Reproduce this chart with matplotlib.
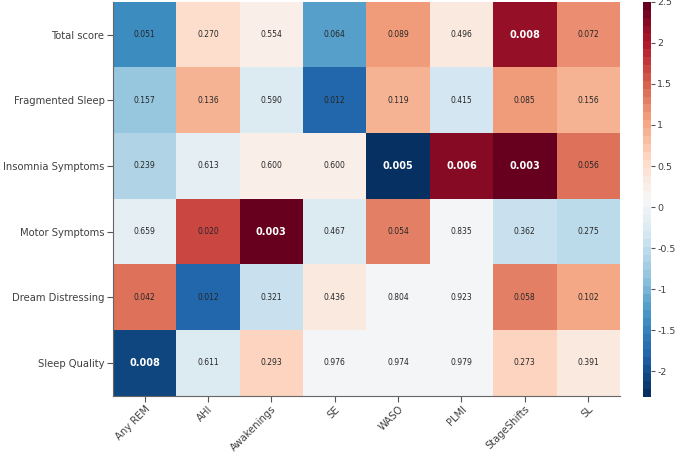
import numpy as np
import matplotlib
matplotlib.use('Agg')
import matplotlib.pyplot as plt

plt.rcParams['axes.unicode_minus'] = False

# row / column labels
rows = ['Total score', 'Fragmented Sleep', 'Insomnia Symptoms',
        'Motor Symptoms', 'Dream Distressing', 'Sleep Quality']
cols = ['Any REM', 'AHI', 'Awakenings', 'SE', 'WASO', 'PLMI', 'StageShifts', 'SL']

# effect values (colour)
total_score = [-1.39, 0.48, 0.24, -1.24, 1.06, 0.29, 2.12, 1.16]
fragmented = [-0.86, 0.96, -0.24, -1.82, 0.92, -0.33, 1.06, 0.87]
insomnia = [-0.62, -0.19, 0.20, 0.20, -2.31, 2.26, 2.50, 1.35]
motor = [-0.10, 1.73, 2.48, -0.28, 1.30, 0.05, -0.43, -0.52]
dream = [1.40, -1.82, -0.48, 0.34, 0.08, 0.01, 1.25, 1.05]
quality = [-2.10, -0.20, 0.58, 0.01, 0.01, 0.01, 0.58, 0.35]

# p-values shown in the cells
p_total = [0.051, 0.270, 0.554, 0.064, 0.089, 0.496, 0.008, 0.072]
p_frag = [0.157, 0.136, 0.590, 0.012, 0.119, 0.415, 0.085, 0.156]
p_insom = [0.239, 0.613, 0.600, 0.600, 0.005, 0.006, 0.003, 0.056]
p_motor = [0.659, 0.020, 0.003, 0.467, 0.054, 0.835, 0.362, 0.275]
p_dream = [0.042, 0.012, 0.321, 0.436, 0.804, 0.923, 0.058, 0.102]
p_qual = [0.008, 0.611, 0.293, 0.976, 0.974, 0.979, 0.273, 0.391]

vals = np.array([total_score, fragmented, insomnia, motor, dream, quality])
pvals = np.array([p_total, p_frag, p_insom, p_motor, p_dream, p_qual])

fig = plt.figure(figsize=(6.76, 4.57), dpi=100)
ax = fig.add_axes([0.167, 0.134, 0.750, 0.862])
cax = fig.add_axes([0.951, 0.132, 0.012, 0.864])

cmap = plt.get_cmap('RdBu_r', 50)
mesh = ax.pcolormesh(vals, cmap=cmap, vmin=-2.31, vmax=2.5)
ax.set_xlim(0, len(cols))
ax.set_ylim(len(rows), 0)

# annotate with p-values, bold white when significant
for i in range(len(rows)):
    for j in range(len(cols)):
        p = pvals[i, j]
        if p < 0.01:
            ax.text(j + 0.5, i + 0.5, f'{p:.3f}', ha='center', va='center',
                    fontsize=7, fontweight='bold', color='white')
        else:
            ax.text(j + 0.5, i + 0.5, f'{p:.3f}', ha='center', va='center',
                    fontsize=5.5, color='#262626')

ax.set_xticks(np.arange(len(cols)) + 0.5)
ax.set_xticklabels(cols, rotation=45, ha='right', rotation_mode='anchor')
ax.set_yticks(np.arange(len(rows)) + 0.5)
ax.set_yticklabels(rows)
ax.tick_params(colors='#555555', labelcolor='#404040', labelsize=7.2, length=4, pad=2)

for side in ['top', 'right']:
    ax.spines[side].set_visible(False)
for side in ['left', 'bottom']:
    ax.spines[side].set_color('#666666')

cb = fig.colorbar(mesh, cax=cax)
cb.set_ticks(np.arange(-2, 2.51, 0.5))
cb.set_ticklabels(['-2', '-1.5', '-1', '-0.5', '0', '0.5', '1', '1.5', '2', '2.5'])
cb.outline.set_visible(False)
cax.tick_params(colors='#555555', labelcolor='#404040', labelsize=6.8, length=3, pad=1.5)

fig.savefig('out.png', dpi=100)
